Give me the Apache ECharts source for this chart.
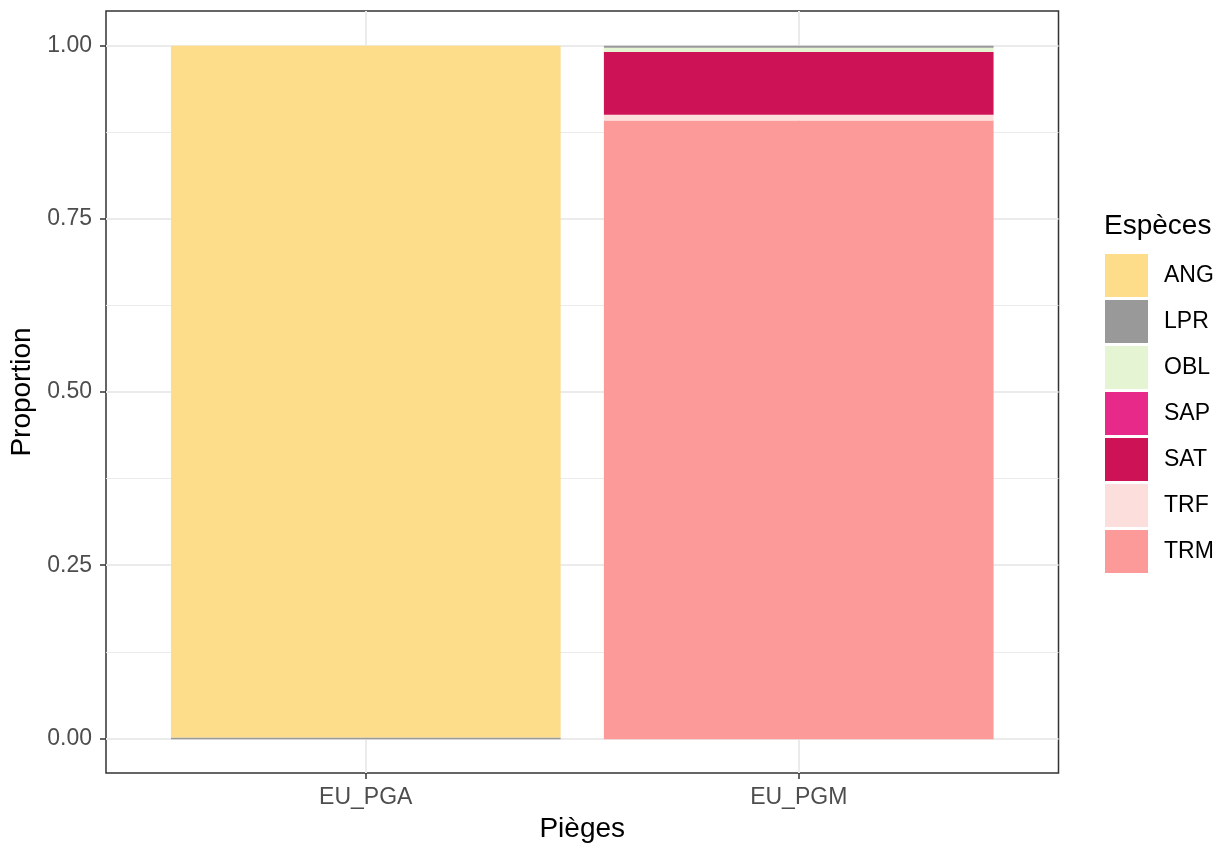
<!DOCTYPE html>
<html><head><meta charset="utf-8">
<script src="https://cdn.jsdelivr.net/npm/echarts@6/dist/echarts.min.js"></script>
<style>html,body{margin:0;padding:0;background:#fff}#c{width:1227px;height:848px}</style>
</head><body><div id="c"></div>
<script>
const traps = ['EU_PGA', 'EU_PGM'];
const species = ['ANG', 'LPR', 'OBL', 'SAP', 'SAT', 'TRF', 'TRM'];
const ANG = [0.9975, 0];
const LPR = [0.0025, 0.003];
const OBL = [0, 0.006];
const SAP = [0, 0];
const SAT = [0, 0.0905];
const TRF = [0, 0.0085];
const TRM = [0, 0.892];
const xTickPositions = [1, 2];
const yTicks = [0, 0.25, 0.5, 0.75, 1];
const yMinor = [0.125, 0.375, 0.625, 0.875];

const values = {ANG, LPR, OBL, SAP, SAT, TRF, TRM};
const colors = {ANG:'#FDDD8A', LPR:'#999999', OBL:'#E5F5D3', SAP:'#E7298A', SAT:'#CE1256', TRF:'#FCDEDC', TRM:'#FB9A99'};
const stackOrder = ['TRM', 'TRF', 'SAT', 'SAP', 'OBL', 'LPR', 'ANG'];
const font = '"Liberation Sans", Arial, sans-serif';

// panel geometry (ggplot-like expansion: 0.6 units each side of the 2 discrete positions)
const panel = {left: 106, right: 168.5, top: 11, bottom: 74};
const panelW = 1227 - panel.left - panel.right;
const unit = panelW / 2.2;
const barsLeft = panel.left + 0.6 * unit - unit / 2;
const barsRight = 1227 - (barsLeft + 2 * unit);

const chart = echarts.init(document.getElementById('c'), null, {renderer: 'canvas'});
chart.setOption({
  animation: false,
  backgroundColor: '#ffffff',
  textStyle: {fontFamily: font},
  title: {text: 'Espèces', left: 1099, top: 207,
    textStyle: {fontFamily: font, fontSize: 28, fontWeight: 'normal', color: '#000'}},
  legend: {
    orient: 'vertical', left: 1100, top: 249,
    data: species, icon: 'rect', itemWidth: 43, itemHeight: 43, itemGap: 3,
    textStyle: {fontFamily: font, fontSize: 23, color: '#000', padding: [0, 0, 0, 11]},
    selectedMode: false
  },
  grid: [
    {left: barsLeft, right: barsRight, top: panel.top, bottom: panel.bottom, show: false},
    {left: panel.left, right: panel.right, top: panel.top, bottom: panel.bottom, show: true,
      borderColor: '#333333', borderWidth: 1.5, backgroundColor: 'transparent'}
  ],
  xAxis: [{
    type: 'category', gridIndex: 0, data: traps, show: false
  }, {
    type: 'value', gridIndex: 1, min: 0.4, max: 2.6, position: 'bottom',
    name: 'Pièges', nameLocation: 'middle', nameGap: 42,
    nameTextStyle: {fontFamily: font, fontSize: 28, color: '#000'},
    axisLine: {show: false, onZero: false},
    axisTick: {show: true, length: 6, customValues: xTickPositions, lineStyle: {color: '#333333', width: 1.5}},
    axisLabel: {customValues: xTickPositions, margin: 13, fontSize: 23, color: '#4D4D4D', fontFamily: font,
      formatter: v => traps[Math.round(v) - 1] || ''},
    splitLine: {show: true, lineStyle: {color: '#EBEBEB', width: 2}}
  }],
  yAxis: [{
    type: 'value', gridIndex: 0, min: -0.05, max: 1.05, show: false
  }, {
    type: 'value', gridIndex: 1, min: -0.05, max: 1.05, position: 'left',
    name: 'Proportion', nameLocation: 'middle', nameGap: 67, nameRotate: 90,
    nameTextStyle: {fontFamily: font, fontSize: 28, color: '#000'},
    axisLine: {show: false, onZero: false},
    axisTick: {show: true, length: 6, customValues: yTicks, lineStyle: {color: '#333333', width: 1.5}},
    axisLabel: {customValues: yTicks, margin: 14, fontSize: 23, color: '#4D4D4D', fontFamily: font,
      formatter: v => v.toFixed(2)},
    splitLine: {show: true, lineStyle: {color: '#EBEBEB', width: 2}}
  }, {
    type: 'value', gridIndex: 1, min: -0.05, max: 1.05, position: 'left',
    axisLine: {show: false, onZero: false}, axisTick: {show: false, customValues: yMinor},
    axisLabel: {show: false, customValues: yMinor},
    splitLine: {show: true, lineStyle: {color: '#EBEBEB', width: 1}}
  }],
  series: stackOrder.map(sp => ({
    name: sp, type: 'bar', stack: 'total', xAxisIndex: 0, yAxisIndex: 0,
    barWidth: '90%',
    itemStyle: {color: colors[sp]},
    emphasis: {disabled: true},
    data: values[sp]
  }))
});
</script></body></html>
